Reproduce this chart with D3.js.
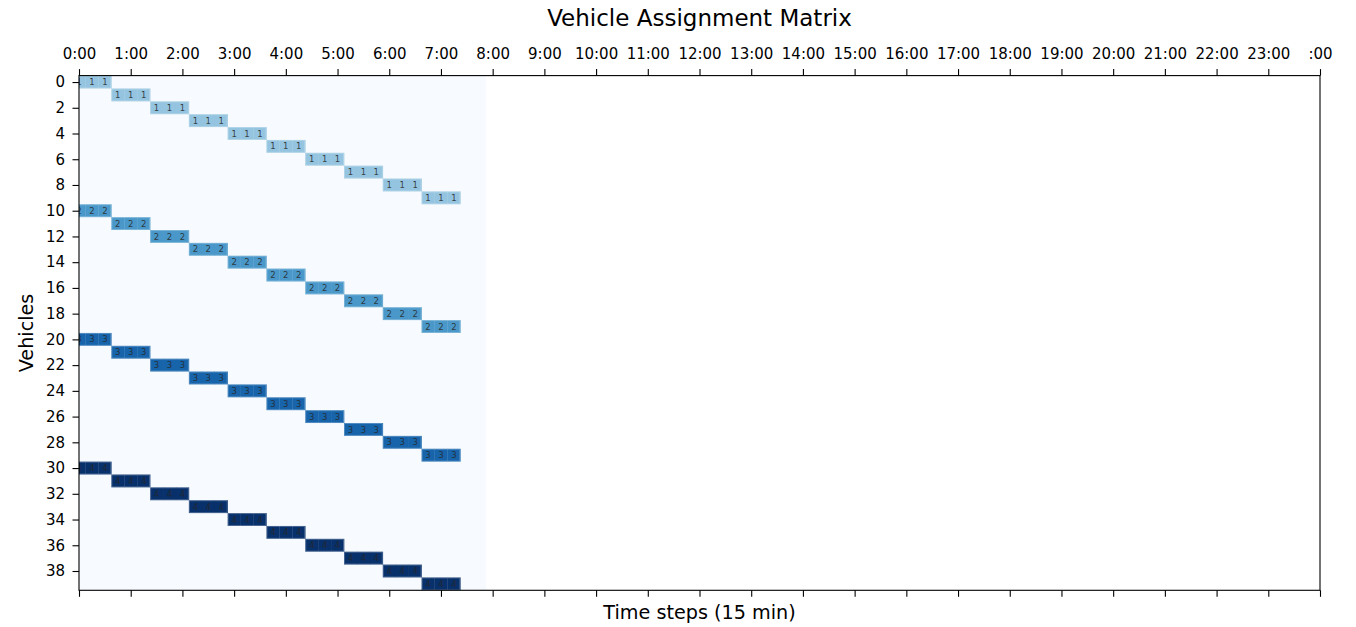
<!DOCTYPE html>
<html>
<head>
<meta charset="utf-8">
<script src="https://cdn.jsdelivr.net/npm/d3@7"></script>
<style>
  html, body { margin: 0; padding: 0; background: #fff; }
  svg { display: block; font-family: "DejaVu Sans", sans-serif; }
</style>
</head>
<body>
<svg id="chart" width="1356" height="627"></svg>
<script>
// ---- data ----
const vehicles = [0,1,2,3,4,5,6,7,8,9,10,11,12,13,14,15,16,17,18,19,
                  20,21,22,23,24,25,26,27,28,29,30,31,32,33,34,35,36,37,38,39];
const startSteps = [0,3,6,9,12,15,18,21,24,27,
                    0,3,6,9,12,15,18,21,24,27,
                    0,3,6,9,12,15,18,21,24,27,
                    0,3,6,9,12,15,18,21,24,27];
const durations = [3,3,3,3,3,3,3,3,3,3,
                   3,3,3,3,3,3,3,3,3,3,
                   3,3,3,3,3,3,3,3,3,3,
                   3,3,3,3,3,3,3,3,3,3];
const assignValues = [1,1,1,1,1,1,1,1,1,1,
                      2,2,2,2,2,2,2,2,2,2,
                      3,3,3,3,3,3,3,3,3,3,
                      4,4,4,4,4,4,4,4,4,4];
const matrixSteps = 32;          // columns in the assignment matrix
const totalSteps = 96;           // x-axis extent (24h * 4)
const xTickSteps = [0,4,8,12,16,20,24,28,32,36,40,44,48,52,56,60,64,68,72,76,80,84,88,92,96];
const xTickLabels = ["0:00","1:00","2:00","3:00","4:00","5:00","6:00","7:00","8:00","9:00",
                     "10:00","11:00","12:00","13:00","14:00","15:00","16:00","17:00","18:00",
                     "19:00","20:00","21:00","22:00","23:00",":00"];
const yTickValues = [0,2,4,6,8,10,12,14,16,18,20,22,24,26,28,30,32,34,36,38];
const valueColors = ["#f7fbff", "#94c4df", "#4a98c9", "#1764ab", "#08306b"];

(function () {
// ---- layout ----
const svg = d3.select("#chart");
const pL = 79, pR = 1320, pT = 75.6, pB = 590.3;

const x = d3.scaleLinear().domain([0, totalSteps]).range([pL, pR]);
const y = d3.scaleLinear().domain([-0.5, 39.5]).range([pT, pB]);
const color = d3.scaleOrdinal().domain([0,1,2,3,4]).range(valueColors);

svg.append("defs").append("clipPath").attr("id", "plotClip")
  .append("rect").attr("x", pL).attr("y", pT)
  .attr("width", pR - pL).attr("height", pB - pT);

const plot = svg.append("g").attr("clip-path", "url(#plotClip)");

// matrix background (value 0)
plot.append("rect")
  .attr("x", x(-0.5)).attr("y", y(-0.5))
  .attr("width", x(matrixSteps - 0.5) - x(-0.5))
  .attr("height", y(39.5) - y(-0.5))
  .attr("fill", color(0));

// build cells
const cells = [];
vehicles.forEach((v, i) => {
  for (let k = 0; k < durations[i]; k++) {
    cells.push({ v: v, step: startSteps[i] + k, val: assignValues[i] });
  }
});

plot.selectAll("rect.cell").data(cells).enter().append("rect")
  .attr("class", "cell")
  .attr("x", d => x(d.step - 0.5))
  .attr("y", d => y(d.v - 0.5))
  .attr("width", d => x(d.step + 0.5) - x(d.step - 0.5) + 0.3)
  .attr("height", d => y(d.v + 0.5) - y(d.v - 0.5))
  .attr("fill", d => color(d.val));

plot.selectAll("rect.block").data(vehicles).enter().append("rect")
  .attr("class", "block")
  .attr("x", (v, i) => x(startSteps[i] - 0.5) + 0.5)
  .attr("y", v => y(v - 0.5) + 0.5)
  .attr("width", (v, i) => x(startSteps[i] + durations[i] - 0.5) - x(startSteps[i] - 0.5) - 1)
  .attr("height", v => y(v + 0.5) - y(v - 0.5) - 1)
  .attr("fill", "none")
  .attr("stroke", "#ffffff")
  .attr("stroke-opacity", 0.25)
  .attr("stroke-width", 1);

plot.selectAll("text.ann").data(cells).enter().append("text")
  .attr("class", "ann")
  .attr("x", d => x(d.step))
  .attr("y", d => y(d.v))
  .attr("dy", "0.36em")
  .attr("text-anchor", "middle")
  .attr("font-size", 8.5)
  .attr("fill", "#262626")
  .attr("fill-opacity", 0.85)
  .text(d => d.val);

// ---- axes ----
const xTop = d3.axisTop(x).tickValues(xTickSteps)
  .tickFormat((d, i) => xTickLabels[i]).tickSize(6.5).tickPadding(10);
const gTop = svg.append("g").attr("transform", `translate(0,${pT})`).call(xTop);

const xBot = d3.axisBottom(x).tickValues(xTickSteps).tickFormat("").tickSize(6.5);
const gBot = svg.append("g").attr("transform", `translate(0,${pB})`).call(xBot);

const yAx = d3.axisLeft(y).tickValues(yTickValues).tickSize(6.5).tickPadding(7.5);
const gY = svg.append("g").attr("transform", `translate(${pL},0)`).call(yAx);

[gTop, gBot, gY].forEach(g => {
  g.selectAll(".domain").remove();
  g.selectAll("line").attr("stroke", "#000").attr("stroke-width", 1.1);
  g.selectAll("text").attr("font-size", 15).attr("fill", "#000")
    .attr("font-family", "DejaVu Sans, sans-serif");
});

// spines
svg.append("rect")
  .attr("x", pL).attr("y", pT)
  .attr("width", pR - pL).attr("height", pB - pT)
  .attr("fill", "none").attr("stroke", "#000").attr("stroke-width", 1.1);

// ---- labels ----
svg.append("text")
  .attr("x", (pL + pR) / 2).attr("y", 26)
  .attr("text-anchor", "middle").attr("font-size", 23).attr("fill", "#000")
  .text("Vehicle Assignment Matrix");

svg.append("text")
  .attr("x", (pL + pR) / 2).attr("y", 619)
  .attr("text-anchor", "middle").attr("font-size", 19.2).attr("fill", "#000")
  .text("Time steps (15 min)");

svg.append("text")
  .attr("transform", `translate(33,${(pT + pB) / 2}) rotate(-90)`)
  .attr("text-anchor", "middle").attr("font-size", 19.2).attr("fill", "#000")
  .text("Vehicles");
})();
</script>
</body>
</html>
